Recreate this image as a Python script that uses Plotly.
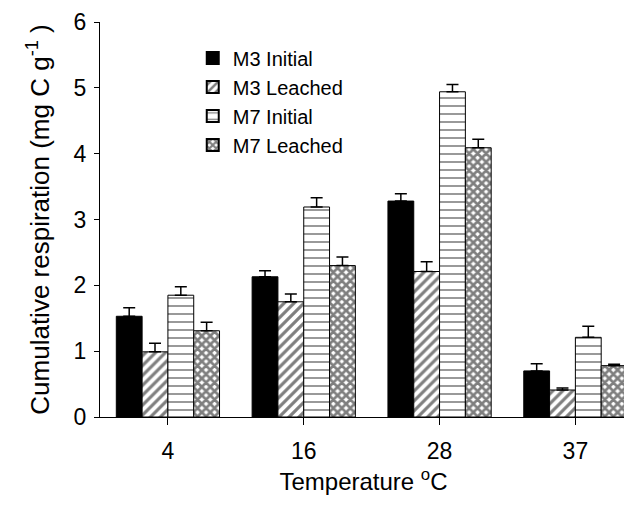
import plotly.graph_objects as go

categories = ["4", "16", "28", "37"]
series_names = ["M3 Initial", "M3 Leached", "M7 Initial", "M7 Leached"]
m3_initial = [1.53, 2.13, 3.28, 0.70]
m3_initial_err = [0.13, 0.09, 0.11, 0.11]
m3_leached = [0.99, 1.75, 2.21, 0.41]
m3_leached_err = [0.13, 0.12, 0.15, 0.03]
m7_initial = [1.85, 3.19, 4.94, 1.21]
m7_initial_err = [0.13, 0.14, 0.11, 0.17]
m7_leached = [1.31, 2.30, 4.09, 0.78]
m7_leached_err = [0.13, 0.13, 0.13, 0.02]
y_ticks = [0, 1, 2, 3, 4, 5, 6]

FONT = "Arial, Liberation Sans, Helvetica, sans-serif"

values = [m3_initial, m3_leached, m7_initial, m7_leached]
errors = [m3_initial_err, m3_leached_err, m7_initial_err, m7_leached_err]
patterns = [
    dict(shape="", fgcolor="black", bgcolor="black"),
    dict(shape="/", fgcolor="black", bgcolor="white", size=7, solidity=0.45),
    dict(shape="-", fgcolor="black", bgcolor="white", size=8, solidity=0.2),
    dict(shape="x", fgcolor="black", bgcolor="white", size=6, solidity=0.7),
]
colors = ["black", "white", "white", "white"]

fig = go.Figure()
for name, vals, errs, pat, col in zip(series_names, values, errors, patterns, colors):
    fig.add_trace(go.Bar(
        x=categories, y=vals, name=name,
        marker=dict(color=col, pattern=pat, line=dict(color="black", width=1)),
        error_y=dict(type="data", array=errs, symmetric=False,
                     arrayminus=[0] * len(errs), color="black",
                     thickness=1.5, width=6),
    ))

# page has an 8px body margin; figure is sized/offset to compensate
fig.update_layout(
    width=624, height=498,
    margin=dict(l=92, r=5, t=14, b=89),
    paper_bgcolor="white", plot_bgcolor="white",
    barmode="group", bargap=0.24, bargroupgap=0,
    font=dict(family=FONT, color="black", size=21),
    showlegend=True,
    legend=dict(x=0.176, y=0.958, xanchor="left", yanchor="top",
                bgcolor="rgba(0,0,0,0)", font=dict(size=20, family=FONT),
                tracegroupgap=0, itemsizing="constant"),
)
fig.update_xaxes(
    type="category", range=[-0.5, 3.38], showline=True, linecolor="black",
    linewidth=1, ticks="outside", ticklen=7, tickcolor="black",
    tickfont=dict(size=23), ticklabelstandoff=6, showgrid=False, zeroline=False,
    automargin=False,
    title=dict(text="Temperature <sup>o</sup>C", font=dict(size=24), standoff=10),
)
fig.update_yaxes(
    range=[0, 6], tickvals=y_ticks, showline=True, linecolor="black",
    linewidth=1, ticks="outside", ticklen=5, tickcolor="black",
    tickfont=dict(size=23), ticklabelstandoff=3, showgrid=False, zeroline=False,
    automargin=False,
    title=dict(text="Cumulative respiration (mg C g<sup>-1</sup> )", font=dict(size=26), standoff=16),
)

fig.write_html("out.html")
